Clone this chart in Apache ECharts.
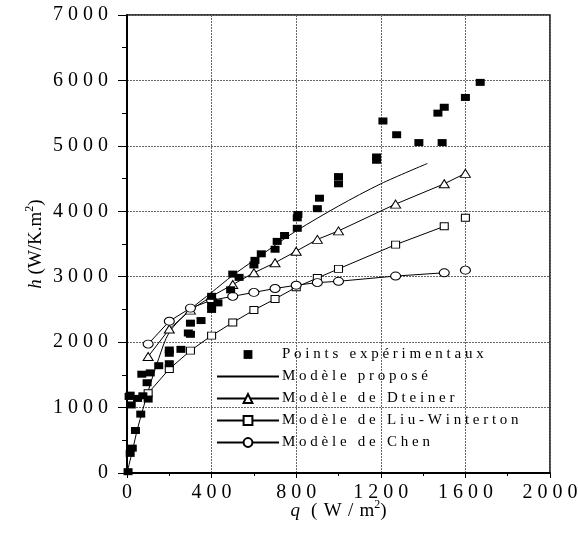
<!DOCTYPE html>
<html lang="fr">
<head>
<meta http-equiv="Content-Type" content="text/html; charset=utf-8"/>
<title>h = f(q)</title>
<script src="https://cdn.jsdelivr.net/npm/echarts@6/dist/echarts.min.js"></script>
<style>
  html, body { margin: 0; padding: 0; background: #fff; }
  #chart { width: 578px; height: 536px; }
</style>
</head>
<body>
<div id="chart"></div>
<script type="text/javascript">

  // points expérimentaux : q (W/m2), h (W/K.m2)
  var expQ = [5, 15, 25, 40, 65, 95, 10, 20, 15, 50, 100, 75,
    70, 110, 150, 200, 200, 200, 255, 290, 300, 300, 350,
    400, 400, 430, 400, 490, 500, 530, 600, 605, 635, 700, 710, 745,
    805, 805, 808, 900, 910, 1000, 1000, 1180, 1180, 1210, 1275,
    1380, 1490, 1470, 1500, 1600, 1670];
  var expH = [20, 300, 380, 650, 900, 1380, 1170, 1040, 1190, 1140, 1130, 1180,
    1510, 1530, 1640, 1670, 1830, 1880, 1890, 2140, 2120, 2290, 2330,
    2500, 2560, 2600, 2700, 2800, 3040, 2990, 3180, 3250, 3350, 3420, 3540, 3630,
    3740, 3900, 3950, 4040, 4200, 4420, 4530, 4780, 4830, 5380, 5170,
    5050, 5050, 5500, 5590, 5740, 5970];

  // modèles ('-' = trait interrompu)
  var proposeQ = [0, 25, 50, 100, 150, 200, 300, 400, 500, 600, 700, 800, 1000, 1200, 1420];
  var proposeH = [0, 330, 680, 1250, 1750, 2150, 2500, 2760, 3020, 3250, 3480, 3700, 4080, 4420, 4730];

  var steinerQ = [100, 200, 300, 400, 500, 600, 700, 800, 900, 1000, 1270, 1500, 1600];
  var steinerH = [1780, 2200, 2490, 2700, 2880, 3060, 3214, 3390, 3570, 3700, 4110, 4420, 4580];

  var liuQ = [100, 200, 300, 400, 500, 600, 700, 800, 900, 1000, 1270, 1500, 1550, 1600];
  var liuH = [1220, 1590, 1870, 2100, 2300, 2490, 2660, 2840, 2980, 3120, 3490, 3770, '-', 3900];

  var chenQ = [100, 200, 300, 400, 500, 600, 700, 800, 900, 1000, 1270, 1500, 1550, 1600];
  var chenH = [1970, 2320, 2520, 2640, 2700, 2760, 2820, 2870, 2910, 2930, 3010, 3060, '-', 3100];

  var legendNames = ['Points expérimentaux', 'Modèle proposé', 'Modèle de Dteiner',
    'Modèle de Liu-Winterton', 'Modèle de Chen'];

  var FONT = '"Liberation Serif", "DejaVu Serif", serif';

  function zip(xs, ys) {
    return xs.map(function (x, i) { return [x, ys[i]]; });
  }

  // texte espacé comme dans la figure d'origine
  function spaced(s, sep) {
    return String(s).split('').join(sep || '\u2005');
  }

  var rich = {
    i: { fontFamily: FONT, fontSize: 19, fontStyle: 'italic', color: '#000' },
    n: { fontFamily: FONT, fontSize: 19, color: '#000' },
    s: { fontFamily: FONT, fontSize: 12, color: '#000', padding: [0, 0, 12, 0] }
  };

  var openStyle = { color: '#fff', borderColor: '#000', borderWidth: 1 };

  var chart = echarts.init(document.getElementById('chart'), null, { renderer: 'canvas' });

  chart.setOption({
    animation: false,
    backgroundColor: '#fff',
    grid: {
      left: 127, right: 28, top: 15, bottom: 63,
      containLabel: false, outerBoundsMode: 'none',
      show: true, borderColor: '#000', borderWidth: 1.5, backgroundColor: 'transparent'
    },
    legend: {
      orient: 'vertical',
      left: 211, top: 342,
      itemWidth: 62, itemHeight: 11, itemGap: 7,
      selectedMode: false,
      data: [
        { name: legendNames[0], lineStyle: { opacity: 0 } },
        { name: legendNames[1], itemStyle: { opacity: 0 } },
        legendNames[2], legendNames[3], legendNames[4]
      ],
      formatter: function (name) { return spaced(name, '\u2005'); },
      textStyle: { fontFamily: FONT, fontSize: 15, lineHeight: 15, color: '#000', padding: [0, 0, 0, -2] }
    },
    xAxis: {
      type: 'value', min: 0, max: 2000, interval: 400,
      name: '{i|q}{n|' + spaced(' (W/m', '\u2004') + '}{s|2}{n|)}',
      nameLocation: 'middle', nameGap: 26, nameMoveOverlap: false,
      nameTextStyle: { rich: rich },
      axisLine: { lineStyle: { color: '#000', width: 2 } },
      axisTick: { show: true, inside: false, length: 5, lineStyle: { color: '#000' } },
      minorTick: { show: true, splitNumber: 2, length: 3, lineStyle: { color: '#000' } },
      splitLine: { show: true, lineStyle: { color: '#666', width: 1, type: [2, 1] } },
      axisLabel: {
        margin: 10, color: '#000', fontFamily: FONT, fontSize: 20,
        showMinLabel: true, showMaxLabel: true,
        formatter: function (v) { return spaced(v); }
      }
    },
    yAxis: {
      type: 'value', min: 0, max: 7000, interval: 1000,
      name: '{i|h}{n| (W/K.m}{s|2}{n|)}',
      nameLocation: 'middle', nameGap: 79, nameMoveOverlap: false,
      nameTextStyle: { rich: rich },
      axisLine: { lineStyle: { color: '#000', width: 2 } },
      axisTick: { show: true, inside: false, length: 9, lineStyle: { color: '#000' } },
      minorTick: { show: true, splitNumber: 2, length: 5, lineStyle: { color: '#000' } },
      splitLine: { show: true, lineStyle: { color: '#666', width: 1, type: [2, 1] } },
      axisLabel: {
        margin: 19, color: '#000', fontFamily: FONT, fontSize: 20,
        showMinLabel: true, showMaxLabel: true,
        formatter: function (v) { return spaced(v); }
      }
    },
    series: [
      {
        name: legendNames[0], type: 'line', data: zip(expQ, expH),
        symbol: 'rect', symbolSize: [9, 7], showSymbol: true, showAllSymbol: true,
        itemStyle: { color: '#000' },
        lineStyle: { opacity: 0 },
        z: 4, silent: true
      },
      {
        name: legendNames[1], type: 'line', data: zip(proposeQ, proposeH),
        symbol: 'none', smooth: 0.3,
        itemStyle: { color: '#000' },
        lineStyle: { color: '#000', width: 1 },
        z: 3, silent: true
      },
      {
        name: legendNames[2], type: 'line', data: zip(steinerQ, steinerH),
        symbol: 'triangle', symbolSize: [10, 8], showSymbol: true,
        itemStyle: openStyle,
        lineStyle: { color: '#000', width: 1 },
        z: 3, silent: true
      },
      {
        name: legendNames[3], type: 'line', data: zip(liuQ, liuH),
        symbol: 'rect', symbolSize: [8, 7], showSymbol: true, connectNulls: false,
        itemStyle: openStyle,
        lineStyle: { color: '#000', width: 1 },
        z: 3, silent: true
      },
      {
        name: legendNames[4], type: 'line', data: zip(chenQ, chenH),
        symbol: 'circle', symbolSize: [10, 8], showSymbol: true, connectNulls: false,
        itemStyle: openStyle,
        lineStyle: { color: '#000', width: 1 },
        z: 3, silent: true
      }
    ]
  });
</script>
</body>
</html>
